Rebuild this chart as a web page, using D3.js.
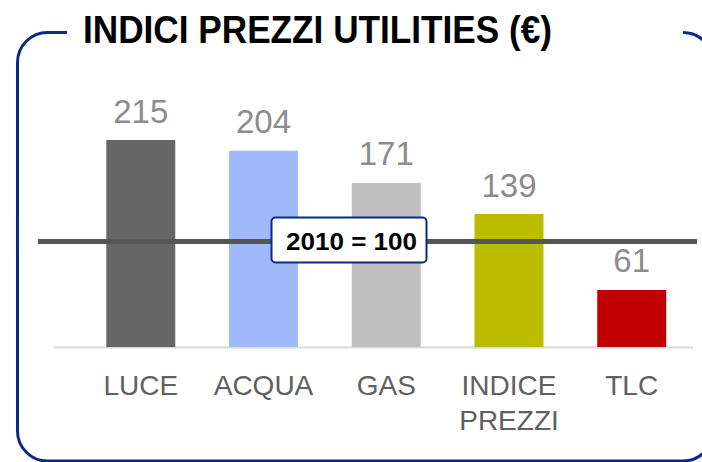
<!DOCTYPE html>
<html>
<head>
<meta charset="utf-8">
<script src="https://cdn.jsdelivr.net/npm/d3@7"></script>
<style>
  html, body { margin: 0; padding: 0; background: #ffffff; }
  svg { display: block; }
</style>
</head>
<body>
<div id="chart"></div>
<script>
// ---- data ----
const categories = ["LUCE", "ACQUA", "GAS", "INDICE PREZZI", "TLC"];
const values = [215, 204, 171, 139, 61];
const barColors = ["#666666", "#a0b9fb", "#c0c0c0", "#bcbc00", "#c00000"];
const titleText = "INDICI PREZZI UTILITIES (€)";
const refLabel = "2010 = 100";

// ---- layout ----
const W = 702, H = 462;
const baseY = 347;
const svg = d3.select("#chart").append("svg").attr("width", W).attr("height", H);

const x = d3.scaleBand()
  .domain(categories)
  .range([79.4, 693.1])
  .paddingInner(0.438)
  .paddingOuter(0.219);

const y = d3.scaleLinear()
  .domain([0, 215])
  .range([349.4, 140]);

// ---- border frame ----
const navy = "#0b2a85";
svg.append("rect")
  .attr("x", 17.5).attr("y", 32.5)
  .attr("width", 713 - 17.5).attr("height", 461 - 32.5)
  .attr("rx", 30).attr("ry", 30)
  .attr("fill", "none").attr("stroke", navy).attr("stroke-width", 3);
// gap for the title
svg.append("rect").attr("x", 67).attr("y", 25).attr("width", 683 - 67).attr("height", 15).attr("fill", "#ffffff");

// ---- title ----
svg.append("text")
  .attr("x", 317.5).attr("y", 43)
  .attr("text-anchor", "middle")
  .attr("font-family", "'Liberation Sans Narrow', 'Arial Narrow', 'Liberation Sans', Arial, sans-serif")
  .attr("font-weight", "bold")
  .attr("font-size", 39)
  .attr("textLength", 469)
  .attr("lengthAdjust", "spacingAndGlyphs")
  .attr("fill", "#000000")
  .text(titleText);

// ---- baseline ----
svg.append("line")
  .attr("x1", 54).attr("x2", 693)
  .attr("y1", baseY + 0.5).attr("y2", baseY + 0.5)
  .attr("stroke", "#d9d9d9").attr("stroke-width", 2);

// ---- bars ----
svg.selectAll("rect.bar")
  .data(values)
  .join("rect")
  .attr("class", "bar")
  .attr("x", (d, i) => x(categories[i]))
  .attr("width", x.bandwidth())
  .attr("y", d => y(d))
  .attr("height", d => baseY - y(d))
  .attr("fill", (d, i) => barColors[i]);

// ---- value labels ----
svg.selectAll("text.val")
  .data(values)
  .join("text")
  .attr("class", "val")
  .attr("x", (d, i) => x(categories[i]) + x.bandwidth() / 2)
  .attr("y", d => y(d) - 17.5)
  .attr("text-anchor", "middle")
  .attr("font-family", "'Liberation Sans', Arial, sans-serif")
  .attr("font-size", 33)
  .attr("fill", "#8c8c8c")
  .text(d => d);

// ---- category labels ----
const catG = svg.selectAll("text.cat")
  .data(categories)
  .join("text")
  .attr("class", "cat")
  .attr("x", d => x(d) + x.bandwidth() / 2)
  .attr("y", 395)
  .attr("text-anchor", "middle")
  .attr("font-family", "'Liberation Sans', Arial, sans-serif")
  .attr("font-size", 28)
  .attr("fill", "#606060");
catG.each(function(d) {
  const words = d.split(" ");
  const t = d3.select(this);
  words.forEach((w, i) => {
    t.append("tspan")
      .attr("x", x(d) + x.bandwidth() / 2)
      .attr("dy", i === 0 ? 0 : 35)
      .text(w);
  });
});

// ---- reference line (2010 = 100) ----
const refY = 241.5;
svg.append("line")
  .attr("x1", 38).attr("x2", 697)
  .attr("y1", refY).attr("y2", refY)
  .attr("stroke", "#555555").attr("stroke-width", 5);

svg.append("rect")
  .attr("x", 271.5).attr("y", 217.5)
  .attr("width", 155).attr("height", 45)
  .attr("rx", 4).attr("ry", 4)
  .attr("fill", "#ffffff").attr("stroke", navy).attr("stroke-width", 2);

svg.append("text")
  .attr("x", 351.5).attr("y", 249.5)
  .attr("text-anchor", "middle")
  .attr("font-family", "'Liberation Sans', Arial, sans-serif")
  .attr("font-weight", "bold")
  .attr("font-size", 24)
  .attr("textLength", 131)
  .attr("lengthAdjust", "spacingAndGlyphs")
  .attr("fill", "#000000")
  .text(refLabel);
</script>
</body>
</html>
